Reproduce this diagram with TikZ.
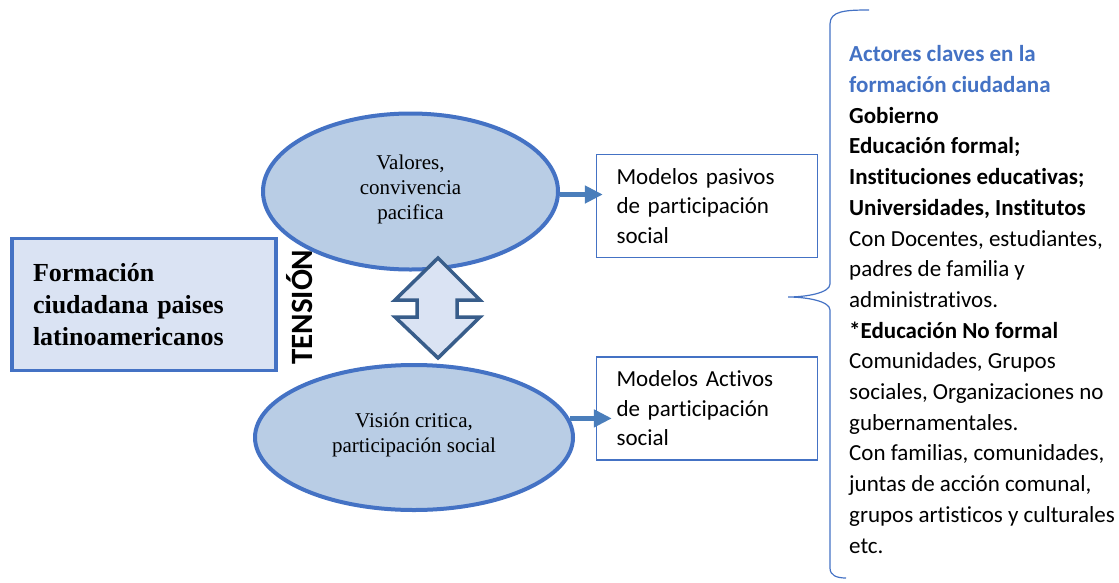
\documentclass[tikz,border=0pt]{standalone}
\usepackage{fontspec}
\setmainfont{Liberation Serif}
\newfontfamily\calib[Ligatures={NoCommon,NoContextual}]{Carlito}
\usetikzlibrary{shapes.geometric,arrows.meta,calc}
\definecolor{boxblue}{HTML}{4472C4}
\definecolor{ellfill}{HTML}{B9CDE5}
\definecolor{lightfill}{HTML}{DAE3F3}
\definecolor{arrblue}{HTML}{4A7EBB}
\definecolor{darkblue}{HTML}{385D8A}
\tikzset{
  ellbox/.style={ellipse, draw=boxblue, line width=4pt, fill=ellfill, inner sep=0pt,
    align=center, font=\fontsize{21}{25}\selectfont},
  modbox/.style={rectangle, draw=boxblue, line width=1.3pt, fill=white, inner xsep=20pt,
    inner ysep=0pt, text width=181pt, minimum height=103pt, align=left,
    font=\calib\fontsize{23}{29.5}\selectfont},
  mainbox/.style={rectangle, draw=boxblue, line width=3.5pt, fill=lightfill, inner xsep=21pt,
    text width=222pt, minimum height=132pt, align=left,
    font=\bfseries\fontsize{26}{32}\selectfont},
  arr/.style={draw=arrblue, line width=5pt, -{Triangle[length=18pt,width=17pt]}},
}
\begin{document}
\begin{tikzpicture}[x=1pt,y=-1pt]
\useasboundingbox (0,0) rectangle (1119,582);

\node[mainbox] (main) at (144,304.5) {Formación\\ciudadana paises\\latinoamericanos};

\node[rotate=90, anchor=base west, font=\calib\bfseries\fontsize{31}{31}\selectfont, inner sep=0pt]
  (tension) at (312,365) {TENSIÓN};

\node[ellbox, minimum width=295pt, minimum height=156pt] (e1) at (410.5,191.5)
  {Valores,\\convivencia\\pacifica\rule[-9pt]{0pt}{9pt}};
\node[ellbox, minimum width=318pt, minimum height=145pt] (e2) at (414,437.5)
  {Visión critica,\\participación social\rule[-9pt]{0pt}{9pt}};

\node[modbox] (m1) at (707,206) {Modelos pasivos\\de participación\\social};
\node[modbox] (m2) at (707,408.5) {Modelos Activos\\de participación\\social};

\coordinate (a1s) at ($(e1.east)+(0,3)$);
\draw[arr] (a1s) -- ($(a1s -| m1.west)+(7,0)$) coordinate (a1e);
\draw[arr] (e2.7) -- ($(e2.7 -| m2.west)+(16,0)$) coordinate (a2e);

% double arrow
\draw[line width=3.5pt, draw=darkblue, fill=lightfill, line join=miter]
  (438,258) -- (395,300) -- (417,300) -- (417,317) -- (395,317) -- (438,358)
  -- (480,317) -- (457,317) -- (457,300) -- (480,300) -- cycle;

% brace
\draw[boxblue, line width=1.2pt]
  (869,10) .. controls (845,10) and (830,11) .. (830,24) -- (830,284)
  .. controls (830,293) and (806,297) .. (788,297)
  .. controls (806,297) and (830,301) .. (830,310) -- (830,568)
  .. controls (830,575) and (836,578) .. (846,578);

\node[anchor=base west, align=left, inner sep=0pt, font=\calib\fontsize{23}{30.7}\selectfont]
  (actors) at (849,553)
  {\textcolor{boxblue}{\bfseries Actores claves en la}\\
   \textcolor{boxblue}{\bfseries formación ciudadana}\\
   \textbf{Gobierno}\\
   \textbf{Educación formal;}\\
   \textbf{Instituciones educativas;}\\
   \textbf{Universidades, Institutos}\\
   Con Docentes, estudiantes,\\
   padres de familia y\\
   administrativos.\\
   \textbf{*Educación No formal}\\
   Comunidades, Grupos\\
   sociales, Organizaciones no\\
   gubernamentales.\\
   Con familias, comunidades,\\
   juntas de acción comunal,\\
   grupos artisticos y culturales\\
   etc.};
\end{tikzpicture}
\end{document}
